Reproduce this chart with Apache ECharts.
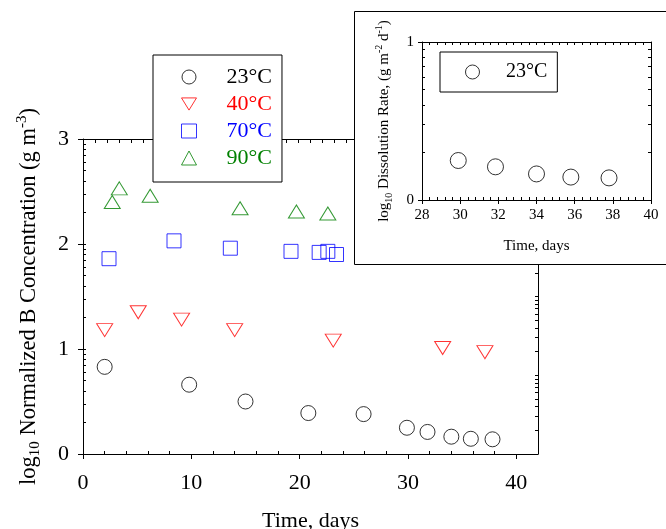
<!DOCTYPE html>
<html>
<head>
<meta charset="utf-8">
<script src="https://cdn.jsdelivr.net/npm/echarts@6/dist/echarts.min.js"></script>
<style>
  html, body { margin: 0; padding: 0; background: #ffffff; }
  #chart { width: 666px; height: 529px; }
</style>
</head>
<body>
<div id="chart"></div>
<script>
// Boron release at four temperatures (log10 normalized concentration vs. time),
// with an inset of the 23°C dissolution rate over the last days.
const FONT = '"Liberation Serif", "Times New Roman", serif';

const seriesNames = ['23°C', '40°C', '70°C', '90°C'];
const seriesColors = ['#000000', '#ff0000', '#0000ff', '#008000'];

const days23 = [2.0, 9.8, 15.0, 20.8, 25.9, 29.9, 31.8, 34.0, 35.8, 37.8];
const log23  = [0.83, 0.66, 0.50, 0.39, 0.38, 0.25, 0.21, 0.165, 0.145, 0.14];

const days40 = [2.0, 5.1, 9.1, 14.0, 23.1, 33.2, 37.1];
const log40  = [1.18, 1.35, 1.28, 1.18, 1.08, 1.01, 0.97];

const days70 = [2.4, 8.4, 13.6, 19.2, 21.8, 22.6, 23.4];
const log70  = [1.86, 2.03, 1.96, 1.93, 1.92, 1.93, 1.90];

const days90 = [2.7, 3.35, 6.2, 14.5, 19.7, 22.6];
const log90  = [2.40, 2.53, 2.46, 2.34, 2.31, 2.29];

// inset: dissolution rate at 23°C
const insetDays = [29.9, 31.85, 34.0, 35.8, 37.8];
const insetRate = [0.25, 0.21, 0.165, 0.145, 0.14];

// tick labels
const mainXLabels = [0, 10, 20, 30, 40];
const mainYLabels = [0, 1, 2, 3];
const insetXLabels = [28, 30, 32, 34, 36, 38, 40];
const insetYLabels = [0, 1];

function pairs(xs, ys) { return xs.map((x, i) => [x, ys[i]]); }

// positions of k*10^d ticks when one decade spans `unit` axis units
function logTicks(decades, unit) {
  const out = [];
  for (let d = 0; d < decades; d++) {
    for (let k = 1; k < 10; k++) out.push((d + Math.log10(k)) * unit);
  }
  out.push(decades * unit);
  return out;
}

// minor ticks every 2 days between the labelled ones
const mainXMinor = [];
for (let v = 2; v < 40; v += 2) { if (v % 10 !== 0) mainXMinor.push(v); }

const black = { color: '#000000', width: 1 };
const txt = (size) => ({ fontFamily: FONT, fontSize: size, color: '#000000' });

const chart = echarts.init(document.getElementById('chart'), null, { renderer: 'canvas' });

const symbols = ['circle', 'triangle', 'rect', 'triangle'];
const symbolSizes = [15, [16, 13], 14, [16, 13]];
const symbolRotates = [0, 180, 0, 0];
const legendIcons = ['circle', 'path://M0,0L16,0L8,13Z', 'rect', 'triangle'];
const mainData = [pairs(days23, log23), pairs(days40, log40), pairs(days70, log70), pairs(days90, log90)];

const mainSeries = seriesNames.map((name, i) => ({
  name: name,
  type: 'scatter',
  xAxisIndex: 0,
  yAxisIndex: 0,
  data: mainData[i],
  symbol: symbols[i],
  symbolSize: symbolSizes[i],
  symbolRotate: symbolRotates[i],
  itemStyle: { color: 'transparent', borderColor: seriesColors[i], borderWidth: 1 },
  emphasis: { disabled: true },
  z: 2
}));

const insetSeries = {
  name: '23°C',
  type: 'scatter',
  xAxisIndex: 3,
  yAxisIndex: 3,
  data: pairs(insetDays, insetRate),
  symbol: 'circle',
  symbolSize: 16,
  itemStyle: { color: 'transparent', borderColor: '#000000', borderWidth: 1 },
  emphasis: { disabled: true },
  z: 11
};

const hiddenLabel = { show: false };
const noSplit = { show: false };

const option = {
  backgroundColor: '#ffffff',
  animation: false,
  textStyle: { fontFamily: FONT },
  grid: [
    { left: 83, right: 128, top: 139, bottom: 75, containLabel: false, outerBoundsMode: 'none' },
    { left: 422, right: 15, top: 42, bottom: 329, containLabel: false, outerBoundsMode: 'none' }
  ],
  graphic: [
    {
      type: 'rect',
      z: 6,
      shape: { x: 354.5, y: 11.5, width: 330, height: 253 },
      style: { fill: '#ffffff', stroke: '#000000', lineWidth: 1 }
    }
  ],
  legend: [
    {
      data: seriesNames.map((n, i) => ({
        name: n,
        icon: legendIcons[i],
        itemStyle: { color: 'transparent', borderColor: seriesColors[i], borderWidth: 1 },
        textStyle: { color: seriesColors[i] }
      })),
      orient: 'vertical',
      left: 153,
      top: 55,
      padding: [11, 10, 13, 28],
      itemWidth: 15,
      itemHeight: 14,
      itemGap: 5,
      backgroundColor: '#ffffff',
      borderColor: '#000000',
      borderWidth: 1,
      selectedMode: false,
      itemStyle: { borderWidth: 1 },
      textStyle: { fontFamily: FONT, fontSize: 22, lineHeight: 22, padding: [0, 0, 0, 25] },
      z: 4
    },
    {
      data: [{
        name: '23°C',
        icon: 'circle',
        itemStyle: { color: 'transparent', borderColor: '#000000', borderWidth: 1 }
      }],
      orient: 'vertical',
      left: 440,
      top: 52,
      padding: [10, 10, 10, 25],
      itemWidth: 15,
      itemHeight: 14,
      backgroundColor: '#ffffff',
      borderColor: '#000000',
      borderWidth: 1,
      selectedMode: false,
      itemStyle: { borderWidth: 1 },
      textStyle: { fontFamily: FONT, fontSize: 20, lineHeight: 20, color: '#000000', padding: [0, 0, 0, 21] },
      z: 10
    }
  ],
  xAxis: [
    // main: labelled bottom axis
    {
      gridIndex: 0, type: 'value', min: 0, max: 42, position: 'bottom',
      axisLine: { show: true, onZero: false, lineStyle: black },
      axisTick: { show: true, inside: false, length: 5, customValues: mainXLabels, lineStyle: black },
      axisLabel: { show: true, customValues: mainXLabels, margin: 18, ...txt(22) },
      splitLine: noSplit,
      name: 'Time, days', nameLocation: 'middle', nameGap: 56, nameMoveOverlap: false,
      nameTextStyle: txt(22)
    },
    // main: minor ticks along the bottom
    {
      gridIndex: 0, type: 'value', min: 0, max: 42, position: 'bottom',
      axisLine: { show: false, onZero: false },
      axisTick: { show: true, inside: true, length: 3, customValues: mainXMinor, lineStyle: black },
      axisLabel: hiddenLabel, splitLine: noSplit
    },
    // main: top frame
    {
      gridIndex: 0, type: 'value', min: 0, max: 38, interval: 1, position: 'top',
      axisLine: { show: true, onZero: false, lineStyle: black },
      axisTick: { show: true, inside: true, length: 4, lineStyle: black },
      axisLabel: hiddenLabel, splitLine: noSplit
    },
    // inset: labelled bottom axis
    {
      gridIndex: 1, type: 'value', min: 28, max: 40, interval: 2, position: 'bottom', z: 10,
      axisLine: { show: true, onZero: false, lineStyle: black },
      axisTick: { show: true, inside: false, length: 4, lineStyle: black },
      axisLabel: { show: true, customValues: insetXLabels, margin: 8, ...txt(15) },
      splitLine: noSplit,
      name: 'Time, days', nameLocation: 'middle', nameGap: 39, nameMoveOverlap: false,
      nameTextStyle: txt(15)
    },
    // inset: minor ticks along the bottom
    {
      gridIndex: 1, type: 'value', min: 28, max: 40, interval: 0.4, position: 'bottom', z: 10,
      axisLine: { show: false, onZero: false },
      axisTick: { show: true, inside: true, length: 3, lineStyle: black },
      axisLabel: hiddenLabel, splitLine: noSplit
    },
    // inset: top frame
    {
      gridIndex: 1, type: 'value', min: 28, max: 40, interval: 0.4, position: 'top', z: 10,
      axisLine: { show: true, onZero: false, lineStyle: black },
      axisTick: { show: true, inside: true, length: 3, lineStyle: black },
      axisLabel: hiddenLabel, splitLine: noSplit
    }
  ],
  yAxis: [
    // main: labelled left axis
    {
      gridIndex: 0, type: 'value', min: 0, max: 3, interval: 1, position: 'left',
      axisLine: { show: true, onZero: false, lineStyle: black },
      axisTick: { show: true, inside: false, length: 5, lineStyle: black },
      axisLabel: { show: true, customValues: mainYLabels, margin: 14, ...txt(22) },
      splitLine: noSplit,
      name: '{a|log}{s|10}{a| Normalized B Concentration (g m}{p|-3}{a|)}',
      nameLocation: 'middle', nameRotate: 90, nameGap: 40, nameMoveOverlap: false,
      nameTextStyle: {
        rich: {
          a: { fontFamily: FONT, fontSize: 22.5, color: '#000', lineHeight: 28, verticalAlign: 'middle' },
          s: { fontFamily: FONT, fontSize: 15, color: '#000', lineHeight: 15, verticalAlign: 'bottom' },
          p: { fontFamily: FONT, fontSize: 15, color: '#000', lineHeight: 15, verticalAlign: 'top' }
        }
      }
    },
    // main: log-style minor ticks on the left
    {
      gridIndex: 0, type: 'value', min: 0, max: 3, position: 'left',
      axisLine: { show: false, onZero: false },
      axisTick: { show: true, inside: true, length: 3, customValues: logTicks(3, 1), lineStyle: black },
      axisLabel: hiddenLabel, splitLine: noSplit
    },
    // main: right frame with log-style ticks
    {
      gridIndex: 0, type: 'value', min: 0, max: 3, position: 'right',
      axisLine: { show: true, onZero: false, lineStyle: black },
      axisTick: { show: true, inside: true, length: 3, customValues: logTicks(4, 0.75), lineStyle: black },
      axisLabel: hiddenLabel, splitLine: noSplit
    },
    // inset: labelled left axis
    {
      gridIndex: 1, type: 'value', min: 0, max: 1, interval: 1, position: 'left', z: 10,
      axisLine: { show: true, onZero: false, lineStyle: black },
      axisTick: { show: true, inside: false, length: 4, lineStyle: black },
      axisLabel: { show: true, customValues: insetYLabels, margin: 8, ...txt(15) },
      splitLine: noSplit,
      name: '{a|log}{s|10}{a| Dissolution Rate, (g m}{p|-2}{a| d}{p|-1}{a|)}',
      nameLocation: 'middle', nameRotate: 90, nameGap: 28, nameMoveOverlap: false,
      nameTextStyle: {
        rich: {
          a: { fontFamily: FONT, fontSize: 15, color: '#000', lineHeight: 20, verticalAlign: 'middle' },
          s: { fontFamily: FONT, fontSize: 10, color: '#000', lineHeight: 10, verticalAlign: 'bottom' },
          p: { fontFamily: FONT, fontSize: 10, color: '#000', lineHeight: 10, verticalAlign: 'top' }
        }
      }
    },
    // inset: log-style minor ticks on the left
    {
      gridIndex: 1, type: 'value', min: 0, max: 1, position: 'left', z: 10,
      axisLine: { show: false, onZero: false },
      axisTick: { show: true, inside: true, length: 3, customValues: logTicks(1, 1), lineStyle: black },
      axisLabel: hiddenLabel, splitLine: noSplit
    },
    // inset: right frame
    {
      gridIndex: 1, type: 'value', min: 0, max: 1, position: 'right', z: 10,
      axisLine: { show: true, onZero: false, lineStyle: black },
      axisTick: { show: true, inside: true, length: 3, customValues: logTicks(1, 1), lineStyle: black },
      axisLabel: hiddenLabel, splitLine: noSplit
    }
  ],
  series: mainSeries.concat([insetSeries])
};

chart.setOption(option);
</script>
</body>
</html>
